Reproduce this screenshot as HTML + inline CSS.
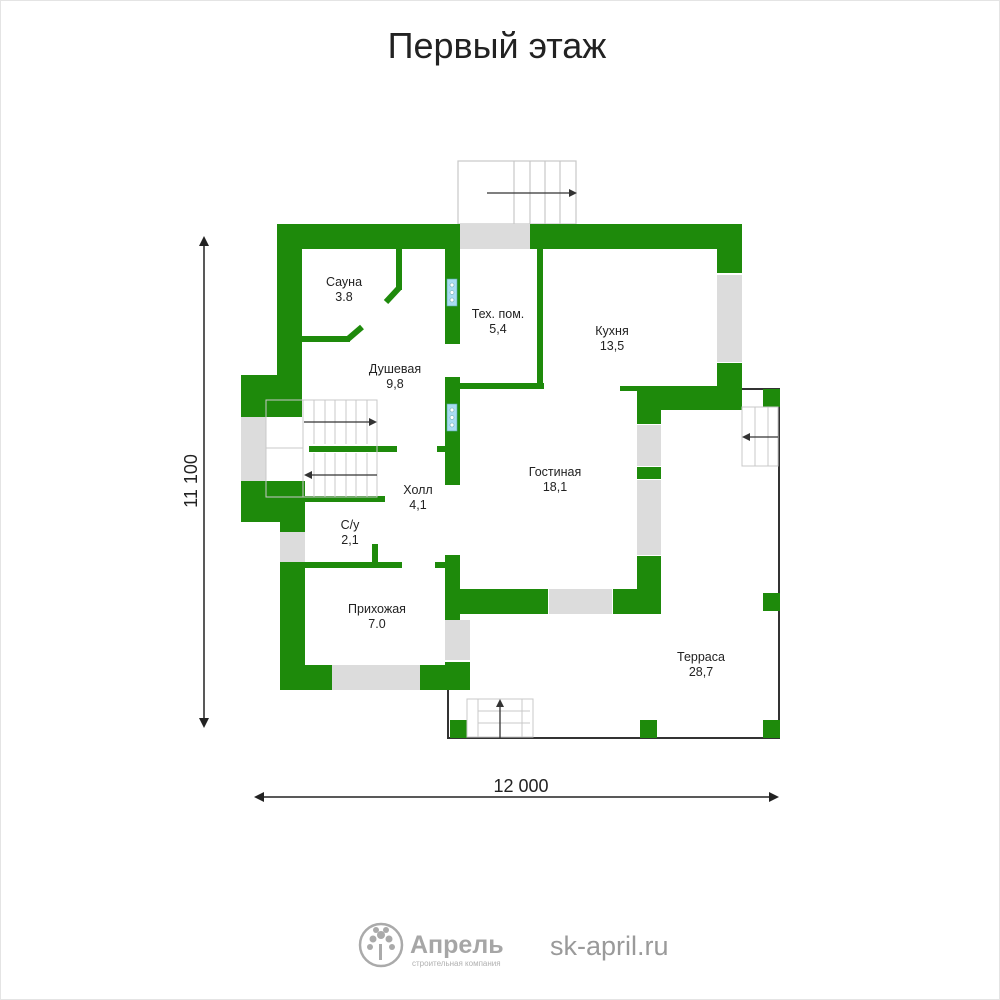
<!DOCTYPE html>
<html><head><meta charset="utf-8"><style>
html,body{margin:0;padding:0;background:#fff}
svg{display:block}
text{font-family:"Liberation Sans",sans-serif}
</style></head><body>
<svg width="1000" height="1000" viewBox="0 0 1000 1000" xmlns="http://www.w3.org/2000/svg">
<rect x="0.5" y="0.5" width="999" height="999" fill="#fff" stroke="#e4e4e4"/>
<text x="497" y="58" font-size="36" text-anchor="middle" fill="#222">Первый этаж</text>

<!-- top stairs -->
<g fill="none" stroke="#c8c8c8" stroke-width="1.2">
<rect x="458" y="161" width="118" height="63"/>
<line x1="514" y1="161" x2="514" y2="224"/><line x1="530" y1="161" x2="530" y2="224"/>
<line x1="545" y1="161" x2="545" y2="224"/><line x1="560" y1="161" x2="560" y2="224"/>
</g>
<line x1="487" y1="193" x2="572" y2="193" stroke="#333" stroke-width="1.3"/>
<polygon points="577,193 569,189 569,197" fill="#333"/>

<!-- terrace frame -->
<polyline points="742,389 779,389 779,738 448,738 448,690" fill="none" stroke="#333" stroke-width="2"/>

<g fill="#1e8a0b">
<!-- top wall left -->
<rect x="277" y="224" width="183" height="25"/>
<rect x="277" y="224" width="25" height="176"/>
<rect x="241" y="375" width="61" height="42"/>
<rect x="241" y="481" width="64" height="41"/>
<rect x="280" y="481" width="25" height="51"/>
<!-- top wall right -->
<rect x="530" y="224" width="212" height="25"/>
<rect x="717" y="224" width="25" height="49"/>
<rect x="717" y="363" width="25" height="47"/>
<rect x="620" y="386" width="122" height="5"/>
<rect x="637" y="386" width="105" height="24"/>
<rect x="637" y="386" width="24" height="38"/>
<rect x="637" y="467" width="24" height="12"/>
<rect x="637" y="556" width="24" height="58"/>
<!-- living bottom -->
<rect x="445" y="589" width="103" height="25"/>
<rect x="613" y="589" width="48" height="25"/>
<rect x="445" y="555" width="15" height="40"/>
<rect x="445" y="555" width="15" height="65"/>
<rect x="435" y="562" width="12" height="6"/>
<!-- prihozhaya -->
<rect x="280" y="562" width="25" height="128"/>
<rect x="280" y="665" width="52" height="25"/>
<rect x="420" y="665" width="50" height="25"/>
<rect x="445" y="662" width="25" height="28"/>
<rect x="305" y="562" width="97" height="6"/>
<rect x="372" y="544" width="6" height="20"/>
<!-- sauna interior -->
<rect x="396" y="249" width="6" height="41"/>
<rect x="302" y="336" width="48" height="6"/>
<!-- dush/tech wall -->
<rect x="445" y="249" width="15" height="95"/>
<rect x="445" y="377" width="15" height="108"/>
<rect x="437" y="446" width="10" height="6"/>
<rect x="460" y="383" width="84" height="6"/>
<rect x="537" y="249" width="6" height="139"/>
<!-- hall stair walls -->
<rect x="309" y="446" width="88" height="6"/>
<rect x="305" y="496" width="80" height="6"/>
<!-- terrace posts -->
<rect x="763" y="389" width="17" height="18"/>
<rect x="763" y="593" width="17" height="18"/>
<rect x="450" y="720" width="17" height="18"/>
<rect x="640" y="720" width="17" height="18"/>
<rect x="763" y="720" width="17" height="18"/>
</g>
<g stroke="#1e8a0b" stroke-width="6" stroke-linecap="butt">
<line x1="399" y1="288" x2="386" y2="302"/>
<line x1="348" y1="339" x2="362" y2="327"/>
</g>

<!-- windows -->
<g fill="#dcdcdc">
<rect x="460" y="224" width="70" height="25"/>
<rect x="717" y="275" width="25" height="87"/>
<rect x="241" y="417" width="25" height="64"/>
<rect x="280" y="532" width="25" height="30"/>
<rect x="637" y="425" width="24" height="41"/>
<rect x="637" y="480" width="24" height="75"/>
<rect x="549" y="589" width="63" height="25"/>
<rect x="445" y="620" width="25" height="40"/>
<rect x="332" y="665" width="88" height="25"/>
</g>

<!-- vents -->
<g>
<rect x="447" y="279" width="10" height="27" fill="#a9dcf2" stroke="#5aa" stroke-width="0.6"/>
<rect x="447" y="404" width="10" height="27" fill="#a9dcf2" stroke="#5aa" stroke-width="0.6"/>
<g fill="#fff" stroke="#6aa" stroke-width="0.6">
<circle cx="452" cy="285" r="2"/><circle cx="452" cy="292.5" r="2"/><circle cx="452" cy="300" r="2"/>
<circle cx="452" cy="410" r="2"/><circle cx="452" cy="417.5" r="2"/><circle cx="452" cy="425" r="2"/>
</g></g>

<!-- hall stairs -->
<g fill="none" stroke="#c8c8c8" stroke-width="1">
<rect x="266" y="400" width="111" height="97"/>
<line x1="266" y1="448" x2="303" y2="448"/>
<line x1="303" y1="400" x2="303" y2="497"/>
<line x1="314" y1="400" x2="314" y2="444"/><line x1="325" y1="400" x2="325" y2="444"/>
<line x1="335" y1="400" x2="335" y2="444"/><line x1="346" y1="400" x2="346" y2="444"/>
<line x1="356" y1="400" x2="356" y2="444"/><line x1="367" y1="400" x2="367" y2="444"/>
<line x1="314" y1="453" x2="314" y2="497"/><line x1="325" y1="453" x2="325" y2="497"/>
<line x1="335" y1="453" x2="335" y2="497"/><line x1="346" y1="453" x2="346" y2="497"/>
<line x1="356" y1="453" x2="356" y2="497"/><line x1="367" y1="453" x2="367" y2="497"/>
</g>
<line x1="304" y1="422" x2="372" y2="422" stroke="#333" stroke-width="1.3"/>
<polygon points="377,422 369,418 369,426" fill="#333"/>
<line x1="310" y1="475" x2="377" y2="475" stroke="#333" stroke-width="1.3"/>
<polygon points="304,475 312,471 312,479" fill="#333"/>

<!-- terrace right stairs -->
<g fill="none" stroke="#c8c8c8" stroke-width="1">
<rect x="742" y="407" width="36" height="59"/>
<line x1="755" y1="407" x2="755" y2="466"/><line x1="768" y1="407" x2="768" y2="466"/>
</g>
<line x1="748" y1="437" x2="778" y2="437" stroke="#333" stroke-width="1.3"/>
<polygon points="742,437 750,433 750,441" fill="#333"/>
<!-- bottom stairs -->
<g fill="none" stroke="#c8c8c8" stroke-width="1">
<rect x="467" y="699" width="66" height="38"/>
<line x1="478" y1="711" x2="530" y2="711"/><line x1="478" y1="723" x2="530" y2="723"/>
<line x1="478" y1="699" x2="478" y2="737"/><line x1="522" y1="699" x2="522" y2="737"/>
</g>
<line x1="500" y1="738" x2="500" y2="705" stroke="#333" stroke-width="1.3"/>
<polygon points="500,699 496,707 504,707" fill="#333"/>

<!-- labels -->
<g font-size="12.5" fill="#222" text-anchor="middle">
<text x="344" y="286">Сауна</text><text x="344" y="301">3.8</text>
<text x="498" y="318">Тех. пом.</text><text x="498" y="333">5,4</text>
<text x="612" y="335">Кухня</text><text x="612" y="350">13,5</text>
<text x="395" y="373">Душевая</text><text x="395" y="388">9,8</text>
<text x="555" y="476">Гостиная</text><text x="555" y="491">18,1</text>
<text x="418" y="494">Холл</text><text x="418" y="509">4,1</text>
<text x="350" y="529">С/у</text><text x="350" y="544">2,1</text>
<text x="377" y="613">Прихожая</text><text x="377" y="628">7.0</text>
<text x="701" y="661">Терраса</text><text x="701" y="676">28,7</text>
</g>

<!-- dimensions -->
<g stroke="#222" stroke-width="1.5">
<line x1="204" y1="240" x2="204" y2="724"/>
<line x1="258" y1="797" x2="775" y2="797"/>
</g>
<g fill="#222">
<polygon points="204,236 199,246 209,246"/><polygon points="204,728 199,718 209,718"/>
<polygon points="254,797 264,792 264,802"/><polygon points="779,797 769,792 769,802"/>
</g>
<text x="521" y="792" font-size="18" text-anchor="middle" fill="#222">12 000</text>
<text transform="translate(197,481) rotate(-90)" font-size="18" text-anchor="middle" fill="#222">11 100</text>

<!-- logo -->
<circle cx="381" cy="945" r="21" fill="none" stroke="#aaa" stroke-width="2.5"/>
<g fill="#aaa">
<rect x="379" y="944" width="3" height="16"/>
<circle cx="381" cy="935" r="4"/><circle cx="373" cy="939" r="3.5"/><circle cx="389" cy="939" r="3.5"/>
<circle cx="370" cy="947" r="3"/><circle cx="392" cy="947" r="3"/><circle cx="376" cy="930" r="3"/><circle cx="386" cy="930" r="3"/>
</g>
<text x="410" y="953" font-size="25" font-weight="bold" fill="#a6a6a6">Апрель</text>
<text x="412" y="966" font-size="8" fill="#b0b0b0">строительная компания</text>
<text x="550" y="955" font-size="27" fill="#9a9a9a">sk-april.ru</text>
</svg>
</body></html>
